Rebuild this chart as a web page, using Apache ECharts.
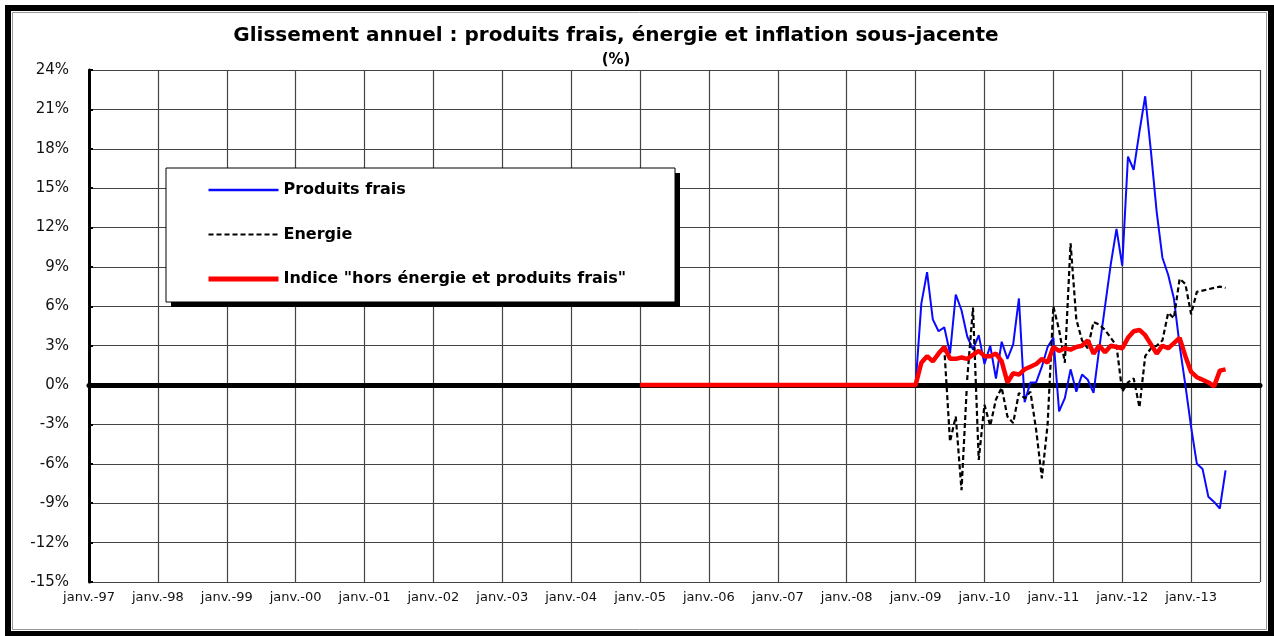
<!DOCTYPE html>
<html>
<head>
<meta charset="utf-8">
<script src="https://cdn.jsdelivr.net/npm/echarts@6/dist/echarts.min.js"></script>
<style>
html,body{margin:0;padding:0;background:#fff}
#c{width:1274px;height:636px}
</style>
</head>
<body>
<div id="c"></div>
<script>
// Axis: monthly categories from janv. 1997 to janv. 2014
const tickLabels = ['janv.-97','janv.-98','janv.-99','janv.-00','janv.-01','janv.-02','janv.-03','janv.-04','janv.-05','janv.-06','janv.-07','janv.-08','janv.-09','janv.-10','janv.-11','janv.-12','janv.-13'];
const axisYears = [1997,1998,1999,2000,2001,2002,2003,2004,2005,2006,2007,2008,2009,2010,2011,2012,2013];
const axisEnd = '2014-01';

// Indice "hors énergie et produits frais" : janv. 2005 - déc. 2008
const core2005to2008 = [0,0,0,0,0,0,0,0,0,0,0,0, 0,0,0,0,0,0,0,0,0,0,0,0, 0,0,0,0,0,0,0,0,0,0,0,0, 0,0,0,0,0,0,0,0,0,0,0,0];

// Monthly values janv. 2009 - juil. 2013 (%)
const produitsFrais = [0, 6.2, 8.6, 5.0, 4.1, 4.4, 2.4, 6.9, 5.7, 3.7, 2.7, 3.8,
  1.6, 3.0, 0.5, 3.3, 2.0, 3.1, 6.6, -1.3, 0.2, 0.2, 1.4, 2.9,
  3.6, -2.0, -1.0, 1.2, -0.5, 0.8, 0.4, -0.6, 2.8, 6.0, 9.2, 11.9,
  9.1, 17.4, 16.4, 19.3, 22.0, 17.8, 13.2, 9.7, 8.4, 6.6, 3.0, 0.0,
  -3.2, -6.0, -6.4, -8.5, -8.9, -9.4, -6.5];
const energie = [0, 1.7, 2.2, 1.8, 2.4, 2.8, -4.3, -2.4, -8.0, 0.5, 5.9, -5.7,
  -1.5, -3.1, -1.1, -0.2, -2.4, -2.9, -0.6, -1.0, -0.5, -3.4, -7.1, -3.0,
  6.0, 4.2, 1.7, 10.8, 5.0, 3.4, 2.8, 4.8, 4.6, 4.2, 3.6, 3.0,
  -0.5, 0.2, 0.5, -1.7, 2.2, 2.8, 3.0, 3.4, 5.5, 5.1, 8.1, 7.7,
  5.4, 7.1, 7.2, 7.3, 7.4, 7.5, 7.4];
const horsEnergie = [0, 1.7, 2.2, 1.8, 2.4, 2.9, 2.0, 2.0, 2.1, 2.0, 2.3, 2.6,
  2.2, 2.2, 2.4, 1.8, 0.2, 0.9, 0.8, 1.2, 1.4, 1.6, 2.0, 1.7,
  2.9, 2.6, 2.8, 2.7, 2.9, 3.0, 3.4, 2.4, 3.0, 2.5, 3.0, 2.9,
  2.8, 3.6, 4.1, 4.2, 3.8, 3.1, 2.4, 3.0, 2.8, 3.2, 3.6, 2.2,
  1.0, 0.6, 0.4, 0.2, -0.1, 1.1, 1.2];

const seriesNames = ['Produits frais', 'Energie', 'Indice "hors énergie et produits frais"'];
const seriesColors = ['#0a0aff', '#000000', '#ff0000'];

// build month categories
const months = [];
axisYears.forEach(y => { for (let m = 1; m <= 12; m++) months.push(y + '-' + (m < 10 ? '0' + m : m)); });
months.push(axisEnd);
const idx2005 = months.indexOf('2005-01');
const idx2009 = months.indexOf('2009-01');
function pad(n, arr) { const out = []; for (let i = 0; i < n; i++) out.push(null); return out.concat(arr); }

const blueData = pad(idx2009, produitsFrais);
const blackData = pad(idx2009, energie);
const redData = pad(idx2005, core2005to2008.concat(horsEnergie));

const chart = echarts.init(document.getElementById('c'), null, {renderer: 'canvas'});
const isYearStart = (i) => i % 12 === 0;

chart.setOption({
  animation: false,
  backgroundColor: '#fff',
  title: [{
    text: 'Glissement annuel : produits frais, énergie et inflation sous-jacente',
    left: 611, top: 21, textAlign: 'center',
    textStyle: {fontFamily: 'DejaVu Sans', fontWeight: 'bold', fontSize: 20, color: '#000'}
  }, {
    text: '(%)',
    left: 611, top: 48, textAlign: 'center',
    textStyle: {fontFamily: 'DejaVu Sans', fontWeight: 'bold', fontSize: 15, color: '#000'}
  }],
  graphic: [
    {type: 'rect', z: 100, silent: true, shape: {x: 171, y: 173, width: 509, height: 134},
     style: {fill: '#000', stroke: 'none'}},
    {type: 'rect', z: 101, silent: true, shape: {x: 166, y: 168, width: 509, height: 134},
     style: {fill: '#fff', stroke: '#000', lineWidth: 1}},
    {type: 'rect', z: 100, silent: true, shape: {x: 8, y: 8, width: 1263, height: 626},
     style: {fill: 'none', stroke: '#000', lineWidth: 6}},
    {type: 'rect', z: 100, silent: true, shape: {x: 12.5, y: 12.5, width: 1254, height: 617},
     style: {fill: 'none', stroke: '#999', lineWidth: 1}}
  ],
  legend: {
    z: 110,
    orient: 'vertical',
    left: 206, top: 182,
    padding: 0,
    itemWidth: 70, itemHeight: 16, itemGap: 28.5,
    itemStyle: {opacity: 0},
    data: [
      {name: seriesNames[0], lineStyle: {width: 2.5, color: seriesColors[0]}},
      {name: seriesNames[1], lineStyle: {width: 2.2, color: seriesColors[1], type: [5, 3]}},
      {name: seriesNames[2], lineStyle: {width: 5, color: seriesColors[2]}}
    ],
    textStyle: {fontFamily: 'DejaVu Sans', fontWeight: 'bold', fontSize: 16, color: '#000'}
  },
  grid: {left: 89, right: 14, top: 70, bottom: 54, containLabel: false},
  xAxis: [{
    type: 'category',
    data: months,
    boundaryGap: false,
    axisLine: {show: false, onZero: false},
    axisTick: {show: false},
    axisLabel: {
      interval: (i) => isYearStart(i) && i < months.length - 1,
      formatter: (v, i) => tickLabels[Math.floor(i / 12)] || '',
      fontFamily: 'DejaVu Sans', fontSize: 13, color: '#111', margin: 9
    },
    splitLine: {show: true, interval: (i) => isYearStart(i), lineStyle: {color: '#444', width: 1.2}}
  }, {
    type: 'category',
    data: months,
    boundaryGap: false,
    position: 'bottom',
    axisLine: {show: true, onZero: true, lineStyle: {color: '#000', width: 5}},
    axisTick: {show: false},
    axisLabel: {show: false},
    splitLine: {show: false}
  }],
  yAxis: {
    type: 'value',
    min: -15, max: 24, interval: 3,
    axisLine: {show: true, lineStyle: {color: '#000', width: 3}},
    axisTick: {show: true, inside: true, length: 4, lineStyle: {color: '#000', width: 2}},
    axisLabel: {formatter: '{value}%', fontFamily: 'DejaVu Sans', fontSize: 15, color: '#111', margin: 20},
    splitLine: {show: true, lineStyle: {color: '#444', width: 1.2}}
  },
  series: [{
    name: seriesNames[0], type: 'line', data: blueData, xAxisIndex: 0,
    symbol: 'none', z: 3,
    lineStyle: {color: seriesColors[0], width: 2}, itemStyle: {color: seriesColors[0]}
  }, {
    name: seriesNames[1], type: 'line', data: blackData, xAxisIndex: 0,
    symbol: 'none', z: 4,
    lineStyle: {color: seriesColors[1], width: 2.2, type: [5, 3]}, itemStyle: {color: seriesColors[1]}
  }, {
    name: seriesNames[2], type: 'line', data: redData, xAxisIndex: 0,
    symbol: 'none', z: 5,
    lineStyle: {color: seriesColors[2], width: 4.5}, itemStyle: {color: seriesColors[2]}
  }]
});
</script>
</body>
</html>
